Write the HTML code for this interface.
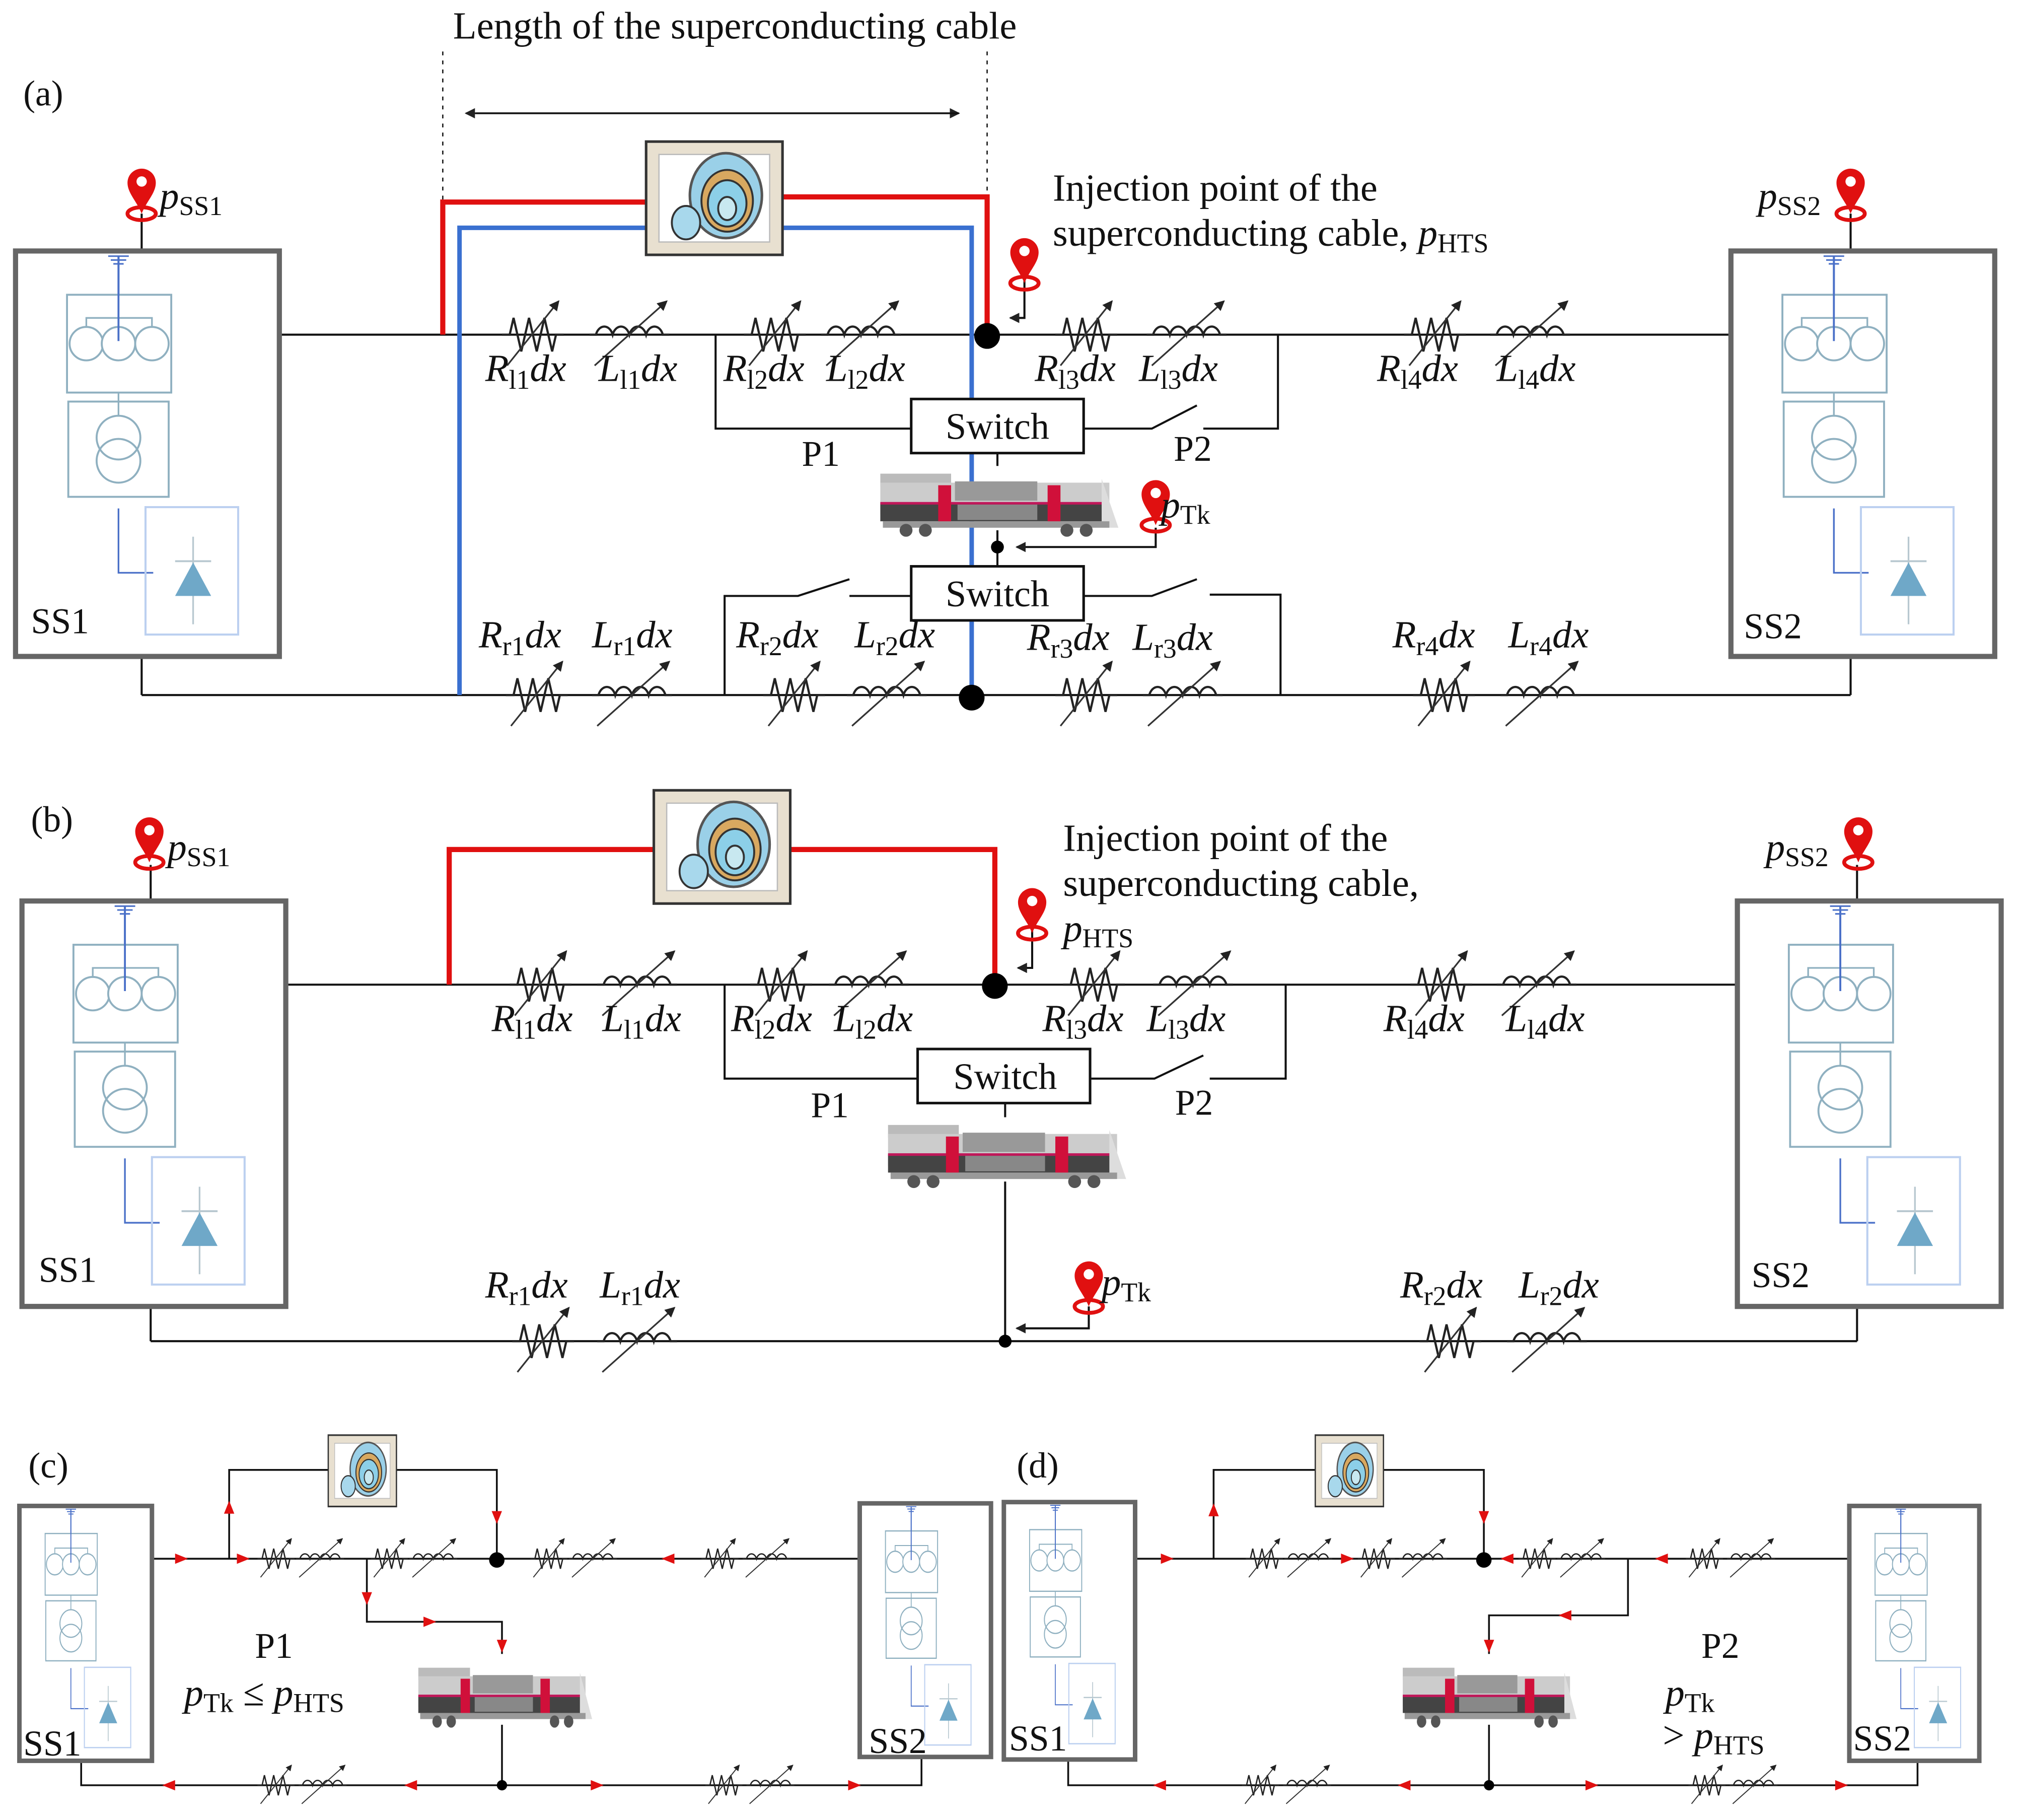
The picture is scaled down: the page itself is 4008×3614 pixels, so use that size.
<!DOCTYPE html>
<html><head><meta charset="utf-8"><style>
html,body{margin:0;padding:0;background:#fff}
svg{display:block}
text{font-family:"Liberation Serif",serif;fill:#111}
.lb{font-style:italic;font-size:30px}
.sub{font-style:normal;font-size:21px}
</style></head><body>
<svg width="4008" height="3614" viewBox="0 0 1568 1414" xmlns="http://www.w3.org/2000/svg">
<defs>
<marker id="ah" markerWidth="8" markerHeight="8" refX="7" refY="4" orient="auto" markerUnits="userSpaceOnUse"><path d="M0,0L8,4L0,8z" fill="#222"/></marker>
<g id="R"><path d="M0,0h6l3,-13l6,26l6,-26l6,26l6,-26l6,26l3,-13h6" fill="none" stroke="#222" stroke-width="1.7"/><line x1="4" y1="24" x2="44" y2="-26" stroke="#333" stroke-width="1.3" marker-end="url(#ah)"/></g>
<g id="L"><path d="M0,0h5a7,10 0 0 1 13,0a7,10 0 0 1 13,0a7,10 0 0 1 13,0a7,10 0 0 1 13,0h5" fill="none" stroke="#222" stroke-width="1.7"/><line x1="4" y1="24" x2="60" y2="-26" stroke="#333" stroke-width="1.3" marker-end="url(#ah)"/></g>
<g id="pin"><ellipse cx="0" cy="0" rx="11" ry="5" fill="none" stroke="#e01010" stroke-width="3"/><path d="M0,0C-4,-10 -11,-16 -11,-24A11,11 0 1 1 11,-24C11,-16 4,-10 0,0z" fill="#e01010"/><circle cx="0" cy="-25" r="4" fill="#fff"/></g>
<g id="ss">
<line x1="80" y1="4" x2="80" y2="34" stroke="#4a70c8" stroke-width="1.5"/>
<path d="M72,4h16M74,7h12M76,10h8" stroke="#4a70c8" stroke-width="1.2"/>
<rect x="40" y="34" width="81" height="76" fill="none" stroke="#8fb0c0" stroke-width="1.5"/>
<path d="M55,84V52H106V84M80,52V84" fill="none" stroke="#8fb0c0" stroke-width="1.3"/>
<circle cx="55" cy="72" r="13" fill="#fff" stroke="#8fb0c0" stroke-width="1.5"/><circle cx="80" cy="72" r="13" fill="#fff" stroke="#8fb0c0" stroke-width="1.5"/><circle cx="106" cy="72" r="13" fill="#fff" stroke="#8fb0c0" stroke-width="1.5"/>
<line x1="80" y1="4" x2="80" y2="70" stroke="#4a70c8" stroke-width="1.5"/>
<rect x="41" y="117" width="78" height="74" fill="none" stroke="#8fb0c0" stroke-width="1.5"/>
<circle cx="80" cy="145" r="17" fill="none" stroke="#8fb0c0" stroke-width="1.5"/><circle cx="80" cy="163" r="17" fill="none" stroke="#8fb0c0" stroke-width="1.5"/>
<line x1="80" y1="110" x2="80" y2="128" stroke="#8fb0c0" stroke-width="1.3"/>
<path d="M80,200V250H107" fill="none" stroke="#4a70c8" stroke-width="1.3"/>
<rect x="101" y="199" width="72" height="99" fill="none" stroke="#bcd0f0" stroke-width="1.6"/>
<line x1="138" y1="222" x2="138" y2="290" stroke="#b8c8d0" stroke-width="1.3"/>
<line x1="124" y1="241" x2="152" y2="241" stroke="#b8c8d0" stroke-width="1.5"/>
<path d="M138,242L124,268H152z" fill="#6fa8c8"/>
</g>
<g id="train">
<rect x="0" y="6" width="55" height="10" fill="#bbb"/>
<rect x="0" y="13" width="178" height="25" fill="#ccc"/>
<rect x="0" y="29" width="178" height="14" fill="#444"/>
<rect x="0" y="28" width="178" height="2" fill="#c0185a"/>
<rect x="58" y="12" width="64" height="15" fill="#999"/>
<rect x="60" y="30" width="62" height="12" fill="#888"/>
<rect x="45" y="15" width="10" height="32" fill="#d0103a"/>
<rect x="130" y="15" width="10" height="32" fill="#d0103a"/>
<path d="M172,10L185,48H172z" fill="#ddd"/>
<rect x="2" y="43" width="176" height="5" fill="#999"/>
<circle cx="20" cy="50" r="5" fill="#555"/><circle cx="35" cy="50" r="5" fill="#555"/>
<circle cx="145" cy="50" r="5" fill="#555"/><circle cx="160" cy="50" r="5" fill="#555"/>
</g>
<g id="cab">
<rect x="0" y="0" width="106" height="88" fill="#e8e0d0" stroke="#333" stroke-width="2"/>
<rect x="10" y="10" width="86" height="68" fill="#fff" stroke="#bbb" stroke-width="1"/>
<ellipse cx="62" cy="42" rx="28" ry="33" fill="#9ad0e8" stroke="#555" stroke-width="2"/>
<ellipse cx="63" cy="46" rx="20" ry="24" fill="#d8a860" stroke="#333" stroke-width="1.5"/>
<ellipse cx="63" cy="48" rx="15" ry="18" fill="#8ccfe8" stroke="#333" stroke-width="1.5"/>
<ellipse cx="63" cy="52" rx="7" ry="9" fill="#c8e8f0" stroke="#333" stroke-width="1.5"/>
<ellipse cx="31" cy="63" rx="11" ry="13" fill="#a8d8ec" stroke="#333" stroke-width="1.5"/>
</g>
<g id="sw"><rect x="0" y="0" width="134" height="42" fill="#fff" stroke="#111" stroke-width="2"/></g>
<path id="ra" d="M-6,-4L4,0L-6,4z" fill="#e01010"/>
</defs>

<g stroke="#111" stroke-width="1.6" fill="none">
<path d="M217,260H1345M110,540H1438M110,510V540M1438,510V540M110,166V195M1438,166V195"/>
<path d="M556,260V333H655L708,333M842,333H895L930,315M935,333H993V260"/>
<path d="M563,540V463H620L660,450M660,463H708M842,463H895L930,450M940,462H995V540"/>
<path d="M775,352V362M775,412V440M898,410V425H790" marker-end="url(#ah)"/>
<path d="M796,218V247H785" marker-end="url(#ah)"/>
<path d="M344,40V260M767,40V155" stroke-dasharray="3,4" stroke-width="1"/>
<path d="M370,88H745" marker-end="url(#ah)" stroke-width="1.3"/>
<path d="M745,88H362" marker-end="url(#ah)" stroke-width="1.3"/>
</g>
<path d="M344,260V157H502M608,153H767V260" fill="none" stroke="#e01010" stroke-width="4"/>
<path d="M357,540V177H502M608,177H755V540" fill="none" stroke="#3a70d0" stroke-width="3.5"/>
<rect x="12" y="195" width="205" height="315" fill="none" stroke="#666" stroke-width="4"/>
<rect x="1345" y="195" width="205" height="315" fill="none" stroke="#666" stroke-width="4"/>
<use href="#ss" x="12" y="195"/><use href="#ss" x="1345" y="195"/>
<use href="#cab" x="502" y="110"/>
<use href="#R" x="390" y="260"/><use href="#L" x="458" y="260"/><use href="#R" x="578" y="260"/><use href="#L" x="638" y="260"/>
<use href="#R" x="820" y="260"/><use href="#L" x="891" y="260"/><use href="#R" x="1091" y="260"/><use href="#L" x="1158" y="260"/>
<use href="#R" x="393" y="540"/><use href="#L" x="460" y="540"/><use href="#R" x="593" y="540"/><use href="#L" x="658" y="540"/>
<use href="#R" x="820" y="540"/><use href="#L" x="888" y="540"/><use href="#R" x="1098" y="540"/><use href="#L" x="1166" y="540"/>
<circle cx="767" cy="261" r="10" fill="#000"/><circle cx="755" cy="542" r="10" fill="#000"/><circle cx="775" cy="425" r="5" fill="#000"/>
<use href="#sw" x="708" y="310"/><use href="#sw" x="708" y="440"/>
<use href="#train" x="684" y="362"/>
<use href="#pin" x="110" y="166"/><use href="#pin" x="1438" y="166"/><use href="#pin" x="796" y="220"/><use href="#pin" x="898" y="408"/>

<text x="571" y="30" font-size="30" text-anchor="middle">Length of the superconducting cable</text>
<text x="18" y="82" font-size="28">(a)</text>
<text x="818" y="156" font-size="30">Injection point of the</text>
<text x="818" y="191" font-size="30">superconducting cable, <tspan font-style="italic">p</tspan><tspan font-size="21" dy="5">HTS</tspan></text>
<text x="124" y="162" class="lb">p<tspan class="sub" dy="5">SS1</tspan></text>
<text x="1366" y="162" class="lb">p<tspan class="sub" dy="5">SS2</tspan></text>
<text x="902" y="402" class="lb">p<tspan class="sub" dy="5">Tk</tspan></text>
<text x="24" y="492" font-size="28">SS1</text><text x="1355" y="496" font-size="28">SS2</text>
<text x="775" y="341" font-size="29" text-anchor="middle">Switch</text>
<text x="775" y="471" font-size="29" text-anchor="middle">Switch</text>
<text x="623" y="362" font-size="28">P1</text><text x="912" y="358" font-size="28">P2</text>
<g class="lb">
<text x="377" y="296">R<tspan class="sub" dy="6">l1</tspan><tspan dy="-6">dx</tspan></text>
<text x="465" y="296">L<tspan class="sub" dy="6">l1</tspan><tspan dy="-6">dx</tspan></text>
<text x="562" y="296">R<tspan class="sub" dy="6">l2</tspan><tspan dy="-6">dx</tspan></text>
<text x="642" y="296">L<tspan class="sub" dy="6">l2</tspan><tspan dy="-6">dx</tspan></text>
<text x="804" y="296">R<tspan class="sub" dy="6">l3</tspan><tspan dy="-6">dx</tspan></text>
<text x="885" y="296">L<tspan class="sub" dy="6">l3</tspan><tspan dy="-6">dx</tspan></text>
<text x="1070" y="296">R<tspan class="sub" dy="6">l4</tspan><tspan dy="-6">dx</tspan></text>
<text x="1163" y="296">L<tspan class="sub" dy="6">l4</tspan><tspan dy="-6">dx</tspan></text>
<text x="372" y="503">R<tspan class="sub" dy="6">r1</tspan><tspan dy="-6">dx</tspan></text>
<text x="460" y="503">L<tspan class="sub" dy="6">r1</tspan><tspan dy="-6">dx</tspan></text>
<text x="572" y="503">R<tspan class="sub" dy="6">r2</tspan><tspan dy="-6">dx</tspan></text>
<text x="664" y="503">L<tspan class="sub" dy="6">r2</tspan><tspan dy="-6">dx</tspan></text>
<text x="798" y="505">R<tspan class="sub" dy="6">r3</tspan><tspan dy="-6">dx</tspan></text>
<text x="880" y="505">L<tspan class="sub" dy="6">r3</tspan><tspan dy="-6">dx</tspan></text>
<text x="1082" y="503">R<tspan class="sub" dy="6">r4</tspan><tspan dy="-6">dx</tspan></text>
<text x="1172" y="503">L<tspan class="sub" dy="6">r4</tspan><tspan dy="-6">dx</tspan></text>
</g>

<!-- PANEL B -->
<g stroke="#111" stroke-width="1.6" fill="none">
<path d="M222,765H1350M117,1042H1443M117,1015V1042M1443,1015V1042M117,672V700M1443,672V700"/>
<path d="M563,765V838H660L713,838M848,838H897L935,820M940,838H999V765"/>
<path d="M781,857V868M781,918V1042M846,1015V1032H790" marker-end="url(#ah)"/>
<path d="M802,723V752H791" marker-end="url(#ah)"/>
</g>
<path d="M349,765V660H508M614,660H773V765" fill="none" stroke="#e01010" stroke-width="4"/>
<rect x="17" y="700" width="205" height="315" fill="none" stroke="#666" stroke-width="4"/>
<rect x="1350" y="700" width="205" height="315" fill="none" stroke="#666" stroke-width="4"/>
<use href="#ss" x="17" y="700"/><use href="#ss" x="1350" y="700"/>
<use href="#cab" x="508" y="614"/>
<use href="#R" x="396" y="765"/><use href="#L" x="464" y="765"/><use href="#R" x="583" y="765"/><use href="#L" x="644" y="765"/>
<use href="#R" x="826" y="765"/><use href="#L" x="896" y="765"/><use href="#R" x="1096" y="765"/><use href="#L" x="1163" y="765"/>
<use href="#R" x="398" y="1042"/><use href="#L" x="464" y="1042"/><use href="#R" x="1103" y="1042"/><use href="#L" x="1171" y="1042"/>
<circle cx="773" cy="766" r="10" fill="#000"/><circle cx="781" cy="1042" r="5" fill="#000"/>
<use href="#sw" x="713" y="815"/>
<use href="#train" x="690" y="868"/>
<use href="#pin" x="116" y="670"/><use href="#pin" x="1444" y="670"/><use href="#pin" x="802" y="725"/><use href="#pin" x="846" y="1015"/>
<text x="24" y="646" font-size="28">(b)</text>
<text x="826" y="661" font-size="30">Injection point of the</text>
<text x="826" y="696" font-size="30">superconducting cable,</text>
<text x="826" y="731" class="lb">p<tspan class="sub" dy="5">HTS</tspan></text>
<text x="130" y="668" class="lb">p<tspan class="sub" dy="5">SS1</tspan></text>
<text x="1372" y="668" class="lb">p<tspan class="sub" dy="5">SS2</tspan></text>
<text x="856" y="1006" class="lb">p<tspan class="sub" dy="5">Tk</tspan></text>
<text x="30" y="996" font-size="28">SS1</text><text x="1361" y="1000" font-size="28">SS2</text>
<text x="781" y="846" font-size="29" text-anchor="middle">Switch</text>
<text x="630" y="868" font-size="28">P1</text><text x="913" y="866" font-size="28">P2</text>
<g class="lb">
<text x="382" y="801">R<tspan class="sub" dy="6">l1</tspan><tspan dy="-6">dx</tspan></text>
<text x="468" y="801">L<tspan class="sub" dy="6">l1</tspan><tspan dy="-6">dx</tspan></text>
<text x="568" y="801">R<tspan class="sub" dy="6">l2</tspan><tspan dy="-6">dx</tspan></text>
<text x="648" y="801">L<tspan class="sub" dy="6">l2</tspan><tspan dy="-6">dx</tspan></text>
<text x="810" y="801">R<tspan class="sub" dy="6">l3</tspan><tspan dy="-6">dx</tspan></text>
<text x="891" y="801">L<tspan class="sub" dy="6">l3</tspan><tspan dy="-6">dx</tspan></text>
<text x="1075" y="801">R<tspan class="sub" dy="6">l4</tspan><tspan dy="-6">dx</tspan></text>
<text x="1170" y="801">L<tspan class="sub" dy="6">l4</tspan><tspan dy="-6">dx</tspan></text>
<text x="377" y="1008">R<tspan class="sub" dy="6">r1</tspan><tspan dy="-6">dx</tspan></text>
<text x="466" y="1008">L<tspan class="sub" dy="6">r1</tspan><tspan dy="-6">dx</tspan></text>
<text x="1088" y="1008">R<tspan class="sub" dy="6">r2</tspan><tspan dy="-6">dx</tspan></text>
<text x="1180" y="1008">L<tspan class="sub" dy="6">r2</tspan><tspan dy="-6">dx</tspan></text>
</g>

<!-- PANEL C -->
<g stroke="#111" stroke-width="1.4" fill="none">
<path d="M118,1211H668M63,1368V1387H716V1365"/>
<path d="M178,1211V1142H255M308,1142H386V1211"/>
<path d="M285,1211V1260H390V1285M390,1340V1387"/>
</g>
<rect x="15" y="1170" width="103" height="198" fill="none" stroke="#666" stroke-width="3.5"/>
<rect x="668" y="1168" width="102" height="197" fill="none" stroke="#666" stroke-width="3.5"/>
<use href="#ss" transform="translate(15,1170) scale(0.5,0.63)"/>
<use href="#ss" transform="translate(668,1168) scale(0.5,0.63)"/>
<use href="#cab" transform="translate(255,1115) scale(0.5,0.63)"/>
<g transform="translate(200,1211) scale(0.6)"><use href="#R"/></g><g transform="translate(230,1211) scale(0.6)"><use href="#L"/></g>
<g transform="translate(288,1211) scale(0.6)"><use href="#R"/></g><g transform="translate(318,1211) scale(0.6)"><use href="#L"/></g>
<g transform="translate(412,1211) scale(0.6)"><use href="#R"/></g><g transform="translate(442,1211) scale(0.6)"><use href="#L"/></g>
<g transform="translate(545,1211) scale(0.6)"><use href="#R"/></g><g transform="translate(577,1211) scale(0.6)"><use href="#L"/></g>
<g transform="translate(200,1387) scale(0.6)"><use href="#R"/></g><g transform="translate(232,1387) scale(0.6)"><use href="#L"/></g>
<g transform="translate(548,1387) scale(0.6)"><use href="#R"/></g><g transform="translate(580,1387) scale(0.6)"><use href="#L"/></g>
<circle cx="386" cy="1212" r="6" fill="#000"/><circle cx="390" cy="1387" r="4" fill="#000"/>
<use href="#train" transform="translate(325,1290) scale(0.73,0.95)"/>
<use href="#ra" transform="translate(142,1211)"/><use href="#ra" transform="translate(190,1211)"/><use href="#ra" transform="translate(178,1170) rotate(-90)"/>
<use href="#ra" transform="translate(386,1180) rotate(90)"/><use href="#ra" transform="translate(285,1243) rotate(90)"/><use href="#ra" transform="translate(335,1260)"/>
<use href="#ra" transform="translate(390,1280) rotate(90)"/><use href="#ra" transform="translate(518,1211) rotate(180)"/>
<use href="#ra" transform="translate(130,1387) rotate(180)"/><use href="#ra" transform="translate(318,1387) rotate(180)"/><use href="#ra" transform="translate(465,1387)"/><use href="#ra" transform="translate(665,1387)"/>
<text x="22" y="1148" font-size="28">(c)</text>
<text x="198" y="1288" font-size="28">P1</text>
<text x="143" y="1325" class="lb">p<tspan class="sub" dy="5">Tk</tspan><tspan dy="-5" font-style="normal"> ≤ </tspan>p<tspan class="sub" dy="5">HTS</tspan></text>
<text x="18" y="1364" font-size="28">SS1</text><text x="675" y="1362" font-size="28">SS2</text>

<!-- PANEL D -->
<g stroke="#111" stroke-width="1.4" fill="none">
<path d="M882,1211H1437M830,1367V1387H1490V1368"/>
<path d="M943,1211V1142H1022M1075,1142H1153V1211"/>
<path d="M1265,1211V1255H1157V1285M1157,1340V1387"/>
</g>
<rect x="780" y="1167" width="102" height="200" fill="none" stroke="#666" stroke-width="3.5"/>
<rect x="1437" y="1170" width="101" height="198" fill="none" stroke="#666" stroke-width="3.5"/>
<use href="#ss" transform="translate(780,1167) scale(0.5,0.63)"/>
<use href="#ss" transform="translate(1437,1170) scale(0.5,0.63)"/>
<use href="#cab" transform="translate(1022,1115) scale(0.5,0.63)"/>
<g transform="translate(968,1211) scale(0.6)"><use href="#R"/></g><g transform="translate(998,1211) scale(0.6)"><use href="#L"/></g>
<g transform="translate(1055,1211) scale(0.6)"><use href="#R"/></g><g transform="translate(1087,1211) scale(0.6)"><use href="#L"/></g>
<g transform="translate(1180,1211) scale(0.6)"><use href="#R"/></g><g transform="translate(1210,1211) scale(0.6)"><use href="#L"/></g>
<g transform="translate(1310,1211) scale(0.6)"><use href="#R"/></g><g transform="translate(1342,1211) scale(0.6)"><use href="#L"/></g>
<g transform="translate(965,1387) scale(0.6)"><use href="#R"/></g><g transform="translate(997,1387) scale(0.6)"><use href="#L"/></g>
<g transform="translate(1312,1387) scale(0.6)"><use href="#R"/></g><g transform="translate(1344,1387) scale(0.6)"><use href="#L"/></g>
<circle cx="1153" cy="1212" r="6" fill="#000"/><circle cx="1157" cy="1387" r="4" fill="#000"/>
<use href="#train" transform="translate(1090,1290) scale(0.73,0.95)"/>
<use href="#ra" transform="translate(908,1211)"/><use href="#ra" transform="translate(943,1172) rotate(-90)"/>
<use href="#ra" transform="translate(1153,1180) rotate(90)"/><use href="#ra" transform="translate(1048,1211)"/>
<use href="#ra" transform="translate(1170,1211) rotate(180)"/><use href="#ra" transform="translate(1290,1211) rotate(180)"/>
<use href="#ra" transform="translate(1215,1255) rotate(180)"/><use href="#ra" transform="translate(1157,1280) rotate(90)"/>
<use href="#ra" transform="translate(900,1387) rotate(180)"/><use href="#ra" transform="translate(1090,1387) rotate(180)"/><use href="#ra" transform="translate(1238,1387)"/><use href="#ra" transform="translate(1432,1387)"/>
<text x="790" y="1148" font-size="28">(d)</text>
<text x="1322" y="1288" font-size="28">P2</text>
<text x="1294" y="1325" class="lb">p<tspan class="sub" dy="5">Tk</tspan></text>
<text x="1292" y="1358" class="lb"><tspan font-style="normal">&gt; </tspan>p<tspan class="sub" dy="5">HTS</tspan></text>
<text x="784" y="1360" font-size="28">SS1</text><text x="1440" y="1360" font-size="28">SS2</text>
</svg>
</body></html>
